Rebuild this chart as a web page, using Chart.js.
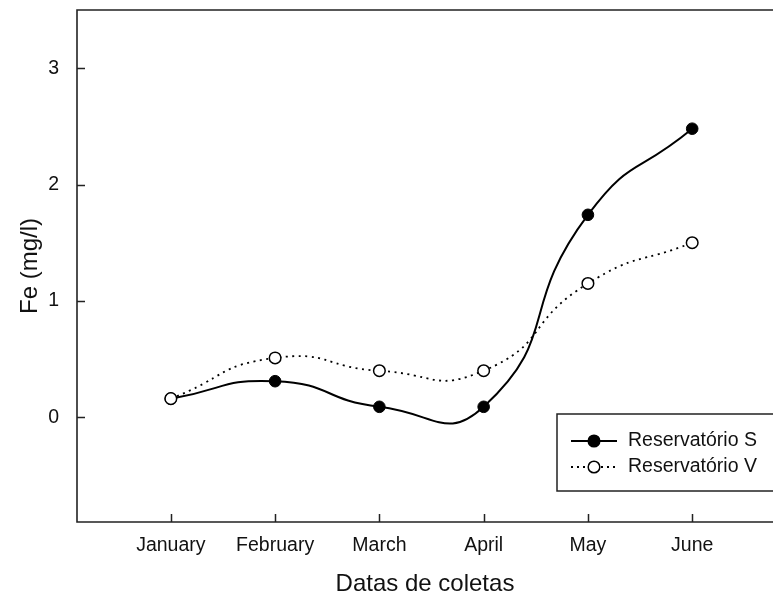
<!DOCTYPE html>
<html>
<head>
<meta charset="utf-8">
<script src="https://cdn.jsdelivr.net/npm/chart.js@4.4.1/dist/chart.umd.min.js"></script>
<style>
html, body { margin: 0; padding: 0; background: #fff; overflow: hidden; }
#chart { display: block; }
</style>
</head>
<body>
<canvas id="chart" width="773" height="599"></canvas>
<script>
// Data
const months = ['January', 'February', 'March', 'April', 'May', 'June'];
const reservatorioS = [0.16, 0.31, 0.09, 0.09, 1.74, 2.48];
const reservatorioV = [0.16, 0.51, 0.40, 0.40, 1.15, 1.50];
const yTicks = [0, 1, 2, 3];
const seriesNames = ['Reservatório S', 'Reservatório V'];

const FONT = "Arial, 'Liberation Sans', sans-serif";

function toPoints(values) {
    return values.map((v, i) => ({ x: i, y: v }));
}

// Frame (right side runs off the picture), inward tick marks and boxed legend
const framePlugin = {
    id: 'frame',
    afterDatasetsDraw(chart) {
        const { ctx, chartArea: a, scales } = chart;
        const x = scales.x, y = scales.y;
        ctx.save();
        ctx.strokeStyle = '#222';
        ctx.lineWidth = 1.6;
        ctx.beginPath();
        ctx.moveTo(a.right + 5, a.top);
        ctx.lineTo(a.left, a.top);
        ctx.lineTo(a.left, a.bottom);
        ctx.lineTo(a.right + 5, a.bottom);
        ctx.stroke();

        ctx.lineWidth = 1.5;
        ctx.beginPath();
        yTicks.forEach(v => {
            const py = Math.round(y.getPixelForValue(v)) + 0.5;
            ctx.moveTo(a.left, py);
            ctx.lineTo(a.left + 8, py);
        });
        months.forEach((m, i) => {
            const px = Math.round(x.getPixelForValue(i)) + 0.5;
            ctx.moveTo(px, a.bottom);
            ctx.lineTo(px, a.bottom - 8);
        });
        ctx.stroke();

        // legend box
        const bx = 557, by = 414, bw = 240, bh = 77;
        ctx.fillStyle = '#fff';
        ctx.fillRect(bx, by, bw, bh);
        ctx.lineWidth = 1.5;
        ctx.strokeStyle = '#222';
        ctx.strokeRect(bx, by, bw, bh);

        const rows = [
            { name: seriesNames[0], y: 441, dash: [], fill: '#000' },
            { name: seriesNames[1], y: 467, dash: [2, 4], fill: '#fff' }
        ];
        rows.forEach(r => {
            ctx.strokeStyle = '#000';
            ctx.lineWidth = r.dash.length ? 1.8 : 2;
            ctx.setLineDash(r.dash);
            ctx.beginPath();
            ctx.moveTo(571, r.y);
            ctx.lineTo(617, r.y);
            ctx.stroke();
            ctx.setLineDash([]);
            ctx.beginPath();
            ctx.arc(594, r.y, 5.8, 0, Math.PI * 2);
            ctx.fillStyle = r.fill;
            ctx.fill();
            ctx.lineWidth = 1.5;
            ctx.stroke();
            ctx.fillStyle = '#111';
            ctx.font = '19.5px ' + FONT;
            ctx.textBaseline = 'middle';
            ctx.textAlign = 'left';
            ctx.fillText(r.name, 628, r.y);
        });
        ctx.restore();
    }
};

new Chart(document.getElementById('chart').getContext('2d'), {
    type: 'line',
    data: {
        datasets: [{
            label: seriesNames[0],
            data: toPoints(reservatorioS),
            order: 1,
            borderColor: '#000',
            borderWidth: 2,
            tension: 0.55,
            pointRadius: 5.8,
            pointBackgroundColor: '#000',
            pointBorderColor: '#000',
            pointBorderWidth: 1
        }, {
            label: seriesNames[1],
            data: toPoints(reservatorioV),
            order: 0,
            borderColor: '#000',
            borderWidth: 1.8,
            borderDash: [2, 4.5],
            tension: 0.55,
            pointRadius: 5.8,
            pointBackgroundColor: '#fff',
            pointBorderColor: '#000',
            pointBorderWidth: 1.5
        }]
    },
    options: {
        responsive: false,
        animation: false,
        layout: { autoPadding: false, padding: { top: 10, right: 0, left: 0, bottom: 0 } },
        plugins: {
            legend: { display: false },
            tooltip: { enabled: false }
        },
        scales: {
            x: {
                type: 'linear',
                min: -0.9,
                max: 5.775,
                grid: { display: false },
                border: { display: false },
                afterBuildTicks: scale => { scale.ticks = months.map((m, i) => ({ value: i })); },
                afterFit: scale => {
                    scale.height = 77;
                    scale.paddingLeft = 0;
                    scale.paddingRight = 0;
                },
                ticks: {
                    autoSkip: false,
                    maxRotation: 0,
                    padding: 4,
                    color: '#111',
                    font: { family: FONT, size: 19.5 },
                    callback: v => months[v]
                },
                title: {
                    display: true,
                    text: 'Datas de coletas',
                    color: '#111',
                    font: { family: FONT, size: 24 },
                    padding: { top: 0, bottom: 0 }
                }
            },
            y: {
                min: -0.9,
                max: 3.5,
                grid: { display: false },
                border: { display: false },
                afterBuildTicks: scale => { scale.ticks = yTicks.map(v => ({ value: v })); },
                afterFit: scale => {
                    scale.width = 77;
                    scale.paddingTop = 0;
                    scale.paddingBottom = 0;
                },
                ticks: {
                    padding: 10,
                    color: '#111',
                    font: { family: FONT, size: 19.5 }
                },
                title: {
                    display: true,
                    text: 'Fe (mg/l)',
                    color: '#111',
                    font: { family: FONT, size: 24 },
                    padding: { top: 16, bottom: 0 }
                }
            }
        }
    },
    plugins: [framePlugin]
});
</script>
</body>
</html>
